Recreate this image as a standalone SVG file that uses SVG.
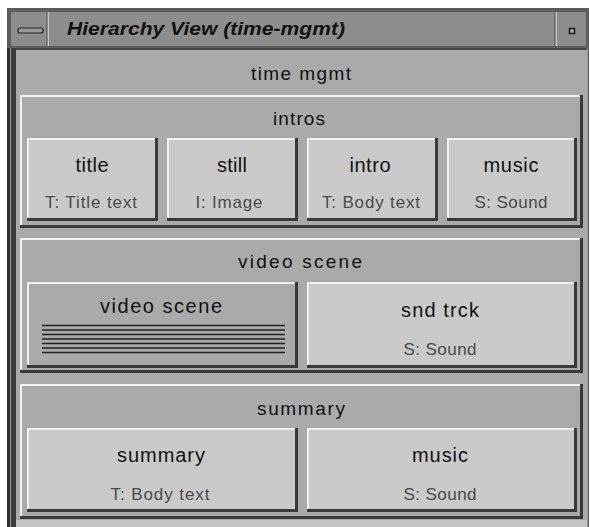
<svg xmlns="http://www.w3.org/2000/svg" width="590" height="527" viewBox="0 0 590 527">
<defs>
<pattern id="dith" width="2" height="2" patternUnits="userSpaceOnUse">
<rect width="2" height="2" fill="#a6a6a6"/>
<rect width="1" height="1" fill="#adadad"/>
<rect x="1" y="1" width="1" height="1" fill="#adadad"/>
</pattern>
<pattern id="dithT" width="2" height="2" patternUnits="userSpaceOnUse">
<rect width="2" height="2" fill="#898989"/>
<rect width="1" height="1" fill="#919191"/>
<rect x="1" y="1" width="1" height="1" fill="#919191"/>
</pattern>
</defs>
<style>
.sh{fill:#3a3a3a}
.hi{fill:#f0f0f0}
.bf{fill:#c9c9c9}
.pf{fill:url(#dith)}
.t{font-family:"Liberation Sans",Arial,sans-serif;fill:#111;text-anchor:middle}
.m{font-size:20px}
.p{font-size:19px}
.s{font-size:17px;fill:#4a4a4a}
.ln{stroke:#222;stroke-width:1.3}
</style>
<rect width="590" height="527" fill="#ffffff"/>
<g id="window">
<rect x="7" y="8" width="582" height="519" fill="#5a5a5a"/>
<rect x="9" y="10" width="579" height="517" fill="#9a9a9a"/>
<rect x="10" y="11" width="577" height="36" fill="url(#dithT)" stroke="#2a2a2a" stroke-width="1"/>
<line x1="48" y1="12" x2="48" y2="46" stroke="#f2f2f2" stroke-width="1.2"/>
<line x1="47" y1="12" x2="47" y2="46" stroke="#4a4a4a" stroke-width="1"/>
<line x1="556" y1="12" x2="556" y2="46" stroke="#f2f2f2" stroke-width="1.2"/>
<line x1="555" y1="12" x2="555" y2="46" stroke="#4a4a4a" stroke-width="1"/>
<rect x="18" y="28" width="25" height="5" rx="2" fill="#9a9a9a" stroke="#222" stroke-width="1.2"/>
<rect x="569.5" y="28.5" width="5" height="5" fill="#aaa" stroke="#111" stroke-width="1.4"/>
<text x="67" y="35" font-family="'Liberation Sans',Arial,sans-serif" font-size="19" font-weight="bold" font-style="italic" fill="#111" textLength="278" lengthAdjust="spacingAndGlyphs">Hierarchy View (time-mgmt)</text>
<rect x="7" y="48" width="3" height="479" fill="#2e2e2e"/>
<rect x="10" y="48" width="1" height="479" fill="#9a9a9a"/>
<rect x="11" y="48" width="5" height="479" fill="#3c3c3c"/>
<rect x="16" y="48" width="571" height="479" class="pf"/>
<rect x="16" y="48" width="571" height="2" fill="#444"/>
<rect x="16" y="520" width="571" height="7" fill="#c4c4c4"/>
<text class="t p" x="301" y="80" textLength="100" lengthAdjust="spacing">time mgmt</text>
</g>
<g id="intros">
<rect class="sh" x="20" y="95" width="563" height="133"/>
<rect class="hi" x="20" y="95" width="560" height="130"/>
<rect class="pf" x="22" y="97" width="558" height="128"/>
<text class="t p" x="299" y="125" textLength="52" lengthAdjust="spacing">intros</text>
<g id="title">
<rect class="sh" x="27" y="138" width="131" height="83"/>
<rect class="hi" x="27" y="138" width="128" height="80"/>
<rect class="bf" x="29" y="140" width="126" height="78"/>
<text class="t m" x="92" y="172" textLength="33" lengthAdjust="spacing">title</text>
<text class="t s" x="91" y="208" textLength="92" lengthAdjust="spacing">T: Title text</text>
</g>
<g id="still">
<rect class="sh" x="167" y="138" width="131" height="83"/>
<rect class="hi" x="167" y="138" width="128" height="80"/>
<rect class="bf" x="169" y="140" width="126" height="78"/>
<text class="t m" x="232" y="172" textLength="30" lengthAdjust="spacing">still</text>
<text class="t s" x="229" y="208" textLength="67" lengthAdjust="spacing">I: Image</text>
</g>
<g id="intro">
<rect class="sh" x="307" y="138" width="131" height="83"/>
<rect class="hi" x="307" y="138" width="128" height="80"/>
<rect class="bf" x="309" y="140" width="126" height="78"/>
<text class="t m" x="370" y="172" textLength="41" lengthAdjust="spacing">intro</text>
<text class="t s" x="371" y="208" textLength="98" lengthAdjust="spacing">T: Body text</text>
</g>
<g id="music1">
<rect class="sh" x="447" y="138" width="130" height="83"/>
<rect class="hi" x="447" y="138" width="127" height="80"/>
<rect class="bf" x="449" y="140" width="125" height="78"/>
<text class="t m" x="511" y="172" textLength="55" lengthAdjust="spacing">music</text>
<text class="t s" x="511" y="208" textLength="73" lengthAdjust="spacing">S: Sound</text>
</g>
</g>
<g id="video-scene">
<rect class="sh" x="20" y="238" width="563" height="135"/>
<rect class="hi" x="20" y="238" width="560" height="132"/>
<rect class="pf" x="22" y="240" width="558" height="130"/>
<text class="t p" x="300" y="268" textLength="124" lengthAdjust="spacing">video scene</text>
<g id="video-scene-clip">
<rect class="sh" x="27" y="282" width="271" height="86"/>
<rect class="hi" x="27" y="282" width="268" height="83"/>
<rect class="pf" x="29" y="284" width="266" height="81"/>
<text class="t m" x="161" y="313" textLength="122" lengthAdjust="spacing">video scene</text>
<g class="ln">
<line x1="42" y1="325.5" x2="285" y2="325.5"/>
<line x1="42" y1="330" x2="285" y2="330"/>
<line x1="42" y1="334.5" x2="285" y2="334.5"/>
<line x1="42" y1="339" x2="285" y2="339"/>
<line x1="42" y1="343.5" x2="285" y2="343.5"/>
<line x1="42" y1="348" x2="285" y2="348"/>
<line x1="42" y1="352.5" x2="285" y2="352.5"/>
</g>
</g>
<g id="snd-trck">
<rect class="sh" x="307" y="282" width="270" height="86"/>
<rect class="hi" x="307" y="282" width="267" height="83"/>
<rect class="bf" x="309" y="284" width="265" height="81"/>
<text class="t m" x="440" y="317" textLength="78" lengthAdjust="spacing">snd trck</text>
<text class="t s" x="440" y="355" textLength="73" lengthAdjust="spacing">S: Sound</text>
</g>
</g>
<g id="summary">
<rect class="sh" x="20" y="384" width="563" height="135"/>
<rect class="hi" x="20" y="384" width="560" height="132"/>
<rect class="pf" x="22" y="386" width="558" height="130"/>
<text class="t p" x="301" y="415" textLength="88" lengthAdjust="spacing">summary</text>
<g id="summary-text">
<rect class="sh" x="27" y="428" width="271" height="84"/>
<rect class="hi" x="27" y="428" width="268" height="81"/>
<rect class="bf" x="29" y="430" width="266" height="79"/>
<text class="t m" x="161" y="462" textLength="88" lengthAdjust="spacing">summary</text>
<text class="t s" x="160" y="500" textLength="99" lengthAdjust="spacing">T: Body text</text>
</g>
<g id="music2">
<rect class="sh" x="307" y="428" width="270" height="84"/>
<rect class="hi" x="307" y="428" width="267" height="81"/>
<rect class="bf" x="309" y="430" width="265" height="79"/>
<text class="t m" x="440" y="462" textLength="56" lengthAdjust="spacing">music</text>
<text class="t s" x="440" y="500" textLength="73" lengthAdjust="spacing">S: Sound</text>
</g>
</g>
<g id="connectors"></g>
</svg>
